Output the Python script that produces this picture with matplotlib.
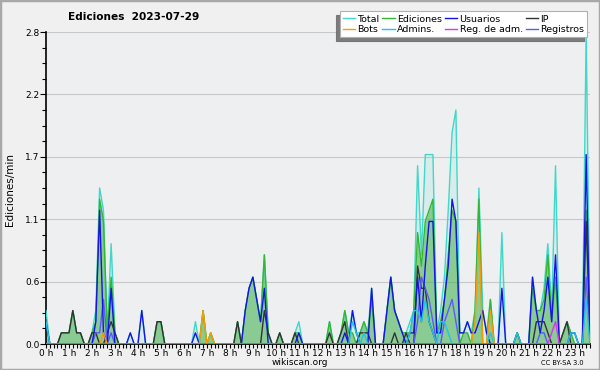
import numpy as np
import matplotlib
matplotlib.use("Agg")
import matplotlib.pyplot as plt
from matplotlib.ticker import FixedLocator, MultipleLocator, FuncFormatter
from matplotlib.lines import Line2D
from matplotlib.patches import Rectangle

plt.rcParams['font.family'] = ['DejaVu Sans']

# Edits per minute, 10-minute bins (one row per hour)
total = [
    0.3, 0, 0, 0, 0.1, 0.1,
    0.1, 0.3, 0.1, 0.1, 0, 0,
    0.1, 0.3, 1.4, 1.2, 0.1, 0.9,
    0.1, 0, 0, 0, 0.1, 0,
    0, 0.3, 0, 0, 0, 0.2,
    0.2, 0, 0, 0, 0, 0,
    0, 0, 0, 0.2, 0, 0.3,
    0, 0.1, 0, 0, 0, 0,
    0, 0, 0.2, 0, 0.3, 0.5,
    0.6, 0.4, 0.2, 0.8, 0.1, 0,
    0, 0.1, 0, 0, 0, 0.1,
    0.2, 0, 0, 0, 0, 0,
    0, 0, 0.2, 0, 0, 0.1,
    0.3, 0.1, 0.3, 0.1, 0.1, 0.2,
    0.1, 0.5, 0, 0, 0, 0.3,
    0.6, 0.3, 0.2, 0.1, 0.1, 0.2,
    0.3, 1.6, 0.8, 1.7, 1.7, 1.7,
    0.1, 0.3, 0.6, 1.2, 1.9, 2.1,
    0.1, 0.1, 0.2, 0.1, 0.3, 1.4,
    0.3, 0.1, 0.4, 0, 0, 1.0,
    0, 0, 0, 0.1, 0, 0,
    0, 0.6, 0.3, 0.3, 0.5, 0.9,
    0.3, 1.6, 0, 0.1, 0.2, 0.1,
    0.1, 0, 0, 2.8, 0.1,
]
ediciones = [
    0.2, 0, 0, 0, 0.1, 0.1,
    0.1, 0.3, 0.1, 0.1, 0, 0,
    0.1, 0.2, 1.3, 1.1, 0.1, 0.6,
    0.1, 0, 0, 0, 0, 0,
    0, 0, 0, 0, 0, 0.2,
    0.2, 0, 0, 0, 0, 0,
    0, 0, 0, 0, 0, 0.3,
    0, 0.1, 0, 0, 0, 0,
    0, 0, 0.2, 0, 0.3, 0.5,
    0.6, 0.4, 0.2, 0.8, 0.1, 0,
    0, 0.1, 0, 0, 0, 0.1,
    0.1, 0, 0, 0, 0, 0,
    0, 0, 0.2, 0, 0, 0.1,
    0.3, 0.1, 0.1, 0, 0.1, 0.2,
    0.1, 0.4, 0, 0, 0, 0.3,
    0.6, 0.3, 0.2, 0.1, 0.1, 0.1,
    0.3, 1.0, 0.7, 1.1, 1.2, 1.3,
    0.1, 0.2, 0.4, 0.8, 1.2, 1.1,
    0, 0.1, 0.1, 0, 0.3, 1.3,
    0, 0, 0.4, 0, 0, 0,
    0, 0, 0, 0.1, 0, 0,
    0, 0.5, 0.3, 0.3, 0.4, 0.8,
    0.2, 0.6, 0, 0.1, 0.2, 0.1,
    0, 0, 0, 1.2, 0.1,
]
usuarios = [
    0.2, 0, 0, 0, 0, 0,
    0, 0, 0, 0, 0, 0,
    0, 0.2, 1.2, 0.1, 0, 0.5,
    0, 0, 0, 0, 0.1, 0,
    0, 0.3, 0, 0, 0, 0,
    0, 0, 0, 0, 0, 0,
    0, 0, 0, 0.1, 0, 0,
    0, 0, 0, 0, 0, 0,
    0, 0, 0, 0, 0.3, 0.5,
    0.6, 0.4, 0.2, 0.5, 0, 0,
    0, 0, 0, 0, 0, 0,
    0.1, 0, 0, 0, 0, 0,
    0, 0, 0, 0, 0, 0,
    0.1, 0, 0.3, 0.1, 0, 0,
    0, 0.5, 0, 0, 0, 0.3,
    0.6, 0.3, 0.2, 0.1, 0, 0.1,
    0.1, 0.6, 0.2, 0.7, 1.1, 1.1,
    0.1, 0.1, 0.4, 0.7, 1.3, 1.1,
    0.1, 0.1, 0.2, 0.1, 0.1, 0.2,
    0.3, 0.1, 0, 0, 0, 0.5,
    0, 0, 0, 0, 0, 0,
    0, 0.6, 0.3, 0.1, 0.3, 0.6,
    0.2, 0.8, 0, 0, 0, 0.1,
    0.1, 0, 0, 1.7, 0,
]
ip = [
    0, 0, 0, 0, 0.1, 0.1,
    0.1, 0.3, 0.1, 0.1, 0, 0,
    0.1, 0.1, 0, 0, 0.1, 0.2,
    0.1, 0, 0, 0, 0, 0,
    0, 0, 0, 0, 0, 0.2,
    0.2, 0, 0, 0, 0, 0,
    0, 0, 0, 0, 0, 0,
    0, 0, 0, 0, 0, 0,
    0, 0, 0.2, 0, 0, 0,
    0, 0, 0, 0.3, 0.1, 0,
    0, 0.1, 0, 0, 0, 0.1,
    0, 0, 0, 0, 0, 0,
    0, 0, 0.1, 0, 0, 0.1,
    0.2, 0, 0, 0, 0.1, 0.1,
    0.1, 0, 0, 0, 0, 0,
    0, 0.1, 0, 0, 0.1, 0,
    0, 0.7, 0.5, 0.5, 0.2, 0.1,
    0, 0, 0, 0, 0, 0,
    0, 0, 0, 0, 0, 0,
    0, 0, 0, 0, 0, 0,
    0, 0, 0, 0.1, 0, 0,
    0, 0, 0.2, 0.2, 0.2, 0.1,
    0, 0, 0, 0.1, 0.2, 0,
    0, 0, 0, 1.1, 0.1,
]
bots = [
    0, 0, 0, 0, 0, 0,
    0, 0, 0, 0, 0, 0,
    0, 0, 0, 0.1, 0, 0,
    0, 0, 0, 0, 0, 0,
    0, 0, 0, 0, 0, 0,
    0, 0, 0, 0, 0, 0,
    0, 0, 0, 0, 0, 0.3,
    0, 0.1, 0, 0, 0, 0,
    0, 0, 0, 0, 0, 0,
    0, 0, 0, 0, 0, 0,
    0, 0, 0, 0, 0, 0,
    0, 0, 0, 0, 0, 0,
    0, 0, 0, 0, 0, 0,
    0, 0, 0, 0, 0, 0,
    0, 0, 0, 0, 0, 0,
    0, 0, 0, 0, 0, 0,
    0, 0, 0, 0, 0, 0,
    0, 0, 0, 0, 0, 0,
    0, 0, 0, 0, 0.2, 1.0,
    0, 0, 0.3, 0, 0, 0,
    0, 0, 0, 0, 0, 0,
    0, 0, 0, 0, 0, 0,
    0, 0, 0, 0, 0, 0,
    0, 0, 0, 0, 0,
]
admins = [
    0.2, 0, 0, 0, 0, 0,
    0, 0, 0, 0, 0, 0,
    0, 0, 0, 0, 0, 0,
    0, 0, 0, 0, 0, 0,
    0, 0, 0, 0, 0, 0,
    0, 0, 0, 0, 0, 0,
    0, 0, 0, 0, 0, 0,
    0, 0, 0, 0, 0, 0,
    0, 0, 0, 0, 0, 0,
    0, 0, 0, 0, 0, 0,
    0, 0, 0, 0, 0, 0,
    0, 0, 0, 0, 0, 0,
    0, 0, 0, 0, 0, 0,
    0, 0, 0.2, 0.1, 0, 0.1,
    0, 0, 0, 0, 0, 0,
    0, 0, 0, 0, 0, 0.1,
    0.3, 0.3, 0.2, 0.4, 0.2, 0.1,
    0, 0.2, 0.2, 0.1, 0, 0,
    0, 0, 0, 0, 0, 0,
    0, 0, 0.1, 0, 0, 0,
    0, 0, 0, 0.1, 0, 0,
    0, 0, 0, 0, 0, 0,
    0, 0, 0, 0, 0, 0.1,
    0.1, 0, 0, 0.4, 0,
]
reg_adm = [0] * 132 + [0.1, 0.2] + [0] * 9
registros = [
    0, 0, 0, 0, 0, 0,
    0, 0, 0, 0, 0, 0,
    0, 0.1, 0.1, 0.4, 0, 0.1,
    0, 0, 0, 0, 0, 0,
    0, 0, 0, 0, 0, 0,
    0, 0, 0, 0, 0, 0,
    0, 0, 0, 0, 0, 0,
    0, 0, 0, 0, 0, 0,
    0, 0, 0, 0, 0, 0,
    0, 0, 0, 0, 0, 0,
    0, 0, 0, 0, 0, 0,
    0, 0, 0, 0, 0, 0,
    0, 0, 0, 0, 0, 0,
    0, 0, 0, 0, 0, 0,
    0, 0, 0, 0, 0, 0,
    0, 0, 0, 0, 0, 0,
    0, 0.2, 0.6, 0.5, 0.4, 0.2,
    0, 0, 0.2, 0.3, 0.4, 0.2,
    0, 0, 0, 0, 0, 0,
    0, 0, 0, 0, 0, 0,
    0, 0, 0, 0, 0, 0,
    0, 0, 0, 0.1, 0.1, 0,
    0, 0, 0, 0, 0, 0,
    0, 0, 0, 0.6, 0,
]
hour_labels = [f"{h} h" for h in range(24)]
y_ticks = [0.0, 0.56, 1.12, 1.68, 2.24, 2.8]

n = len(total)
x = np.arange(n) / 6.0

C_TOTAL = '#40d8c8'
C_ED = '#33b833'
C_US = '#1414e6'
C_IP = '#333333'
C_BOT = '#ff9900'
C_ADM = '#22c4e6'
C_RA = '#dd33ee'
C_REG = '#5a5aff'
BG = '#eeeff1'

fig = plt.figure(figsize=(6.0, 3.7), dpi=100, facecolor='#f0f0f0')
ax = fig.add_axes([46 / 600, 1 - 344 / 370, (590 - 46) / 600, (344 - 32) / 370])
ax.set_facecolor(BG)

ax.fill_between(x, total, 0, color=C_TOTAL, alpha=0.13, lw=0, zorder=1)
ax.fill_between(x, ediciones, 0, color='#4cae4c', alpha=0.55, lw=0, zorder=2)
ax.plot(x, total, color=C_TOTAL, lw=1.0, zorder=3)
ax.plot(x, ediciones, color=C_ED, lw=1.0, zorder=4)
ax.plot(x, ip, color=C_IP, lw=1.0, zorder=5)
ax.plot(x, registros, color=C_REG, lw=1.0, zorder=6)
ax.plot(x, usuarios, color=C_US, lw=1.0, zorder=7)
ax.plot(x, admins, color=C_ADM, lw=1.0, zorder=8)
ax.plot(x, bots, color=C_BOT, lw=1.0, zorder=9)
ax.plot(x, reg_adm, color=C_RA, lw=1.0, zorder=10)

ax.set_xlim(0, x[-1])
ax.set_ylim(0, 2.8)
ax.yaxis.set_major_locator(FixedLocator(y_ticks))
ax.yaxis.set_major_formatter(FuncFormatter(lambda v, p: f"{v:.1f}"))
ax.yaxis.set_minor_locator(MultipleLocator(0.14))
ax.xaxis.set_major_locator(FixedLocator(list(range(24))))
ax.set_xticklabels(hour_labels)
ax.xaxis.set_minor_locator(MultipleLocator(1 / 6))
ax.tick_params(axis='both', which='both', direction='out', length=3, width=0.8,
               labelsize=6.5, pad=0.5, colors='black')
ax.tick_params(axis='y', which='major', length=4)
ax.grid(axis='y', which='major', color='#c8c8c8', lw=0.8, zorder=0)
ax.set_axisbelow(True)
for s in ['top', 'right']:
    ax.spines[s].set_visible(False)
for s in ['left', 'bottom']:
    ax.spines[s].set_linewidth(1.2)

labels = ['Total', 'Bots', 'Ediciones', 'Admins.', 'Usuarios', 'Reg. de adm.', 'IP', 'Registros']
colors = [C_TOTAL, C_BOT, C_ED, C_ADM, C_US, C_RA, C_IP, C_REG]
handles = [Line2D([0], [0], color=c, lw=1.0) for c in colors]
leg = fig.legend(handles, labels, ncol=4, loc='upper right',
                 bbox_to_anchor=(0.987, 0.982), fontsize=6.8, frameon=True,
                 shadow={'ox': -2.5, 'oy': -2.5, 'color': '#707070', 'alpha': 0.9},
                 fancybox=False, handlelength=1.3,
                 handletextpad=0.25, columnspacing=0.3, labelspacing=0.15,
                 borderpad=0.35, edgecolor='#b0b0b0')
leg.get_frame().set_facecolor('white')
leg.get_frame().set_linewidth(0.8)

fig.text(0.223, 0.953, 'Ediciones  2023-07-29', ha='center', va='center',
         fontsize=7.6, fontweight='bold')
fig.text(0.017, 0.487, 'Ediciones/min', rotation=90, ha='center', va='center',
         fontsize=7.5)
fig.text(0.5, 0.019, 'wikiscan.org', ha='center', va='center', fontsize=6.5)
fig.text(0.937, 0.019, 'CC BY-SA 3.0', ha='center', va='center', fontsize=4.8)

fig.patches.append(Rectangle((0, 0), 1, 1, transform=fig.transFigure, fill=False,
                             edgecolor='#a8a8a8', lw=2.5, zorder=100))

fig.savefig('out.png', dpi=100, facecolor=fig.get_facecolor())
